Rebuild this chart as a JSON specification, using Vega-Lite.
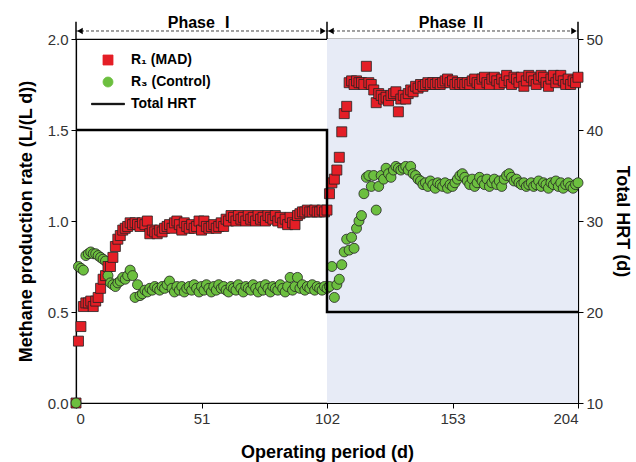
{
"$schema": "https://vega.github.io/schema/vega-lite/v6.json",
"width": 502, "height": 364,
"autosize": {"type": "none"},
"padding": {"left": 76, "top": 39, "right": 58, "bottom": 59},
"background": "white",
"config": {
 "font": "Liberation Sans",
 "view": {"stroke": "black", "strokeWidth": 1.2},
 "axis": {"domainColor": "black", "domainWidth": 1.2, "tickColor": "black", "tickWidth": 1, "tickSize": 5, "labelFontSize": 15, "labelColor": "#333", "titleFontSize": 18, "titleFontWeight": "bold", "titleColor": "black", "grid": false, "labelFont": "Liberation Sans", "titleFont": "Liberation Sans", "zindex": 1},
 "legend": {"orient": "none", "legendX": 25, "legendY": 14, "labelFont": "Liberation Sans, Noto Sans", "labelFontSize": 14, "labelFontWeight": "bold", "labelColor": "black", "symbolSize": 100, "rowPadding": 8, "labelOffset": 16, "symbolStrokeColor": "#222", "symbolStrokeWidth": 0.8, "symbolOpacity": 1}
},
"datasets": {
 "main": [
{"d":0,"r1":0.00,"r3":0.00},{"d":1,"r1":0.34,"r3":0.75},{"d":2,"r1":0.42,"r3":0.74},{"d":3,"r1":0.53,"r3":0.73},{"d":4,"r1":0.55,"r3":0.81},{"d":5,"r1":0.55,"r3":0.82},{"d":6,"r1":0.56,"r3":0.83},{"d":7,"r1":0.53,"r3":0.82},{"d":8,"r1":0.56,"r3":0.82},{"d":9,"r1":0.58,"r3":0.81},
{"d":10,"r1":0.63,"r3":0.80},{"d":11,"r1":0.68,"r3":0.79},{"d":12,"r1":0.70,"r3":0.78},{"d":13,"r1":0.75,"r3":0.70},{"d":14,"r1":0.75,"r3":0.66},{"d":15,"r1":0.80,"r3":0.65},{"d":16,"r1":0.86,"r3":0.64},{"d":17,"r1":0.90,"r3":0.66},{"d":18,"r1":0.92,"r3":0.67},{"d":19,"r1":0.95,"r3":0.69},
{"d":20,"r1":0.96,"r3":0.68},{"d":21,"r1":0.97,"r3":0.70},{"d":22,"r1":0.99,"r3":0.73},{"d":23,"r1":0.98,"r3":0.70},{"d":24,"r1":0.99,"r3":0.58},{"d":25,"r1":0.98,"r3":0.65},{"d":26,"r1":0.97,"r3":0.59},{"d":27,"r1":0.99,"r3":0.60},{"d":28,"r1":0.98,"r3":0.62},{"d":29,"r1":1.00,"r3":0.61},
{"d":30,"r1":0.93,"r3":0.63},{"d":31,"r1":0.95,"r3":0.62},{"d":32,"r1":0.94,"r3":0.64},{"d":33,"r1":0.93,"r3":0.63},{"d":34,"r1":0.95,"r3":0.62},{"d":35,"r1":0.94,"r3":0.64},{"d":36,"r1":0.96,"r3":0.63},{"d":37,"r1":0.97,"r3":0.65},{"d":38,"r1":0.98,"r3":0.67},{"d":39,"r1":0.96,"r3":0.63},
{"d":40,"r1":0.99,"r3":0.61},{"d":41,"r1":1.00,"r3":0.64},{"d":42,"r1":0.98,"r3":0.62},{"d":43,"r1":0.95,"r3":0.64},{"d":44,"r1":0.99,"r3":0.61},{"d":45,"r1":0.97,"r3":0.63},{"d":46,"r1":0.96,"r3":0.64},{"d":47,"r1":0.98,"r3":0.62},{"d":48,"r1":0.96,"r3":0.65},{"d":49,"r1":0.97,"r3":0.63},
{"d":50,"r1":1.00,"r3":0.61},{"d":51,"r1":0.95,"r3":0.64},{"d":52,"r1":1.00,"r3":0.62},{"d":53,"r1":0.97,"r3":0.65},{"d":54,"r1":0.96,"r3":0.63},{"d":55,"r1":0.97,"r3":0.61},{"d":56,"r1":0.98,"r3":0.64},{"d":57,"r1":0.96,"r3":0.62},{"d":58,"r1":0.97,"r3":0.65},{"d":59,"r1":0.99,"r3":0.63},
{"d":60,"r1":0.97,"r3":0.64},{"d":61,"r1":1.01,"r3":0.62},{"d":62,"r1":1.00,"r3":0.61},{"d":63,"r1":1.03,"r3":0.64},{"d":64,"r1":1.02,"r3":0.63},{"d":65,"r1":1.00,"r3":0.62},{"d":66,"r1":1.03,"r3":0.65},{"d":67,"r1":1.01,"r3":0.63},{"d":68,"r1":1.02,"r3":0.61},{"d":69,"r1":1.00,"r3":0.64},
{"d":70,"r1":1.03,"r3":0.63},{"d":71,"r1":1.01,"r3":0.62},{"d":72,"r1":1.02,"r3":0.65},{"d":73,"r1":1.00,"r3":0.63},{"d":74,"r1":1.03,"r3":0.61},{"d":75,"r1":1.01,"r3":0.64},{"d":76,"r1":1.02,"r3":0.62},{"d":77,"r1":1.00,"r3":0.65},{"d":78,"r1":1.03,"r3":0.63},{"d":79,"r1":1.02,"r3":0.61},
{"d":80,"r1":1.01,"r3":0.64},{"d":81,"r1":1.03,"r3":0.63},{"d":82,"r1":1.00,"r3":0.62},{"d":83,"r1":1.02,"r3":0.65},{"d":84,"r1":0.99,"r3":0.63},{"d":85,"r1":1.01,"r3":0.61},{"d":86,"r1":0.98,"r3":0.64},{"d":87,"r1":1.02,"r3":0.69},{"d":88,"r1":0.99,"r3":0.62},{"d":89,"r1":0.98,"r3":0.64},
{"d":90,"r1":1.03,"r3":0.69},{"d":91,"r1":1.04,"r3":0.63},{"d":92,"r1":1.05,"r3":0.65},{"d":93,"r1":1.05,"r3":0.62},{"d":94,"r1":1.06,"r3":0.64},{"d":95,"r1":1.05,"r3":0.63},{"d":96,"r1":1.05,"r3":0.65},{"d":97,"r1":1.06,"r3":0.62},{"d":98,"r1":1.05,"r3":0.64},{"d":99,"r1":1.05,"r3":0.63},
{"d":100,"r1":1.06,"r3":0.62},{"d":101,"r1":1.05,"r3":0.64},{"d":102,"r1":1.06,"r3":0.63},{"d":103,"r1":1.15,"r3":0.64},{"d":104,"r1":1.21,"r3":0.75},{"d":105,"r1":1.23,"r3":0.58},{"d":106,"r1":1.28,"r3":0.65},{"d":107,"r1":1.35,"r3":0.68},{"d":108,"r1":1.49,"r3":0.76},{"d":109,"r1":1.59,"r3":0.83},
{"d":110,"r1":1.63,"r3":0.90},{"d":111,"r1":1.76,"r3":0.84},{"d":112,"r1":1.77,"r3":0.91},{"d":113,"r1":1.75,"r3":0.85},{"d":114,"r1":1.77,"r3":0.96},{"d":115,"r1":1.76,"r3":1.00},{"d":116,"r1":1.76,"r3":1.03},{"d":117,"r1":1.75,"r3":1.15},{"d":118,"r1":1.85,"r3":1.24},{"d":119,"r1":1.76,"r3":1.25},
{"d":120,"r1":1.75,"r3":1.19},{"d":121,"r1":1.72,"r3":1.25},{"d":122,"r1":1.65,"r3":1.06},{"d":123,"r1":1.70,"r3":1.19},{"d":124,"r1":1.69,"r3":1.25},{"d":125,"r1":1.67,"r3":1.23},{"d":126,"r1":1.68,"r3":1.29},{"d":127,"r1":1.66,"r3":1.26},{"d":128,"r1":1.69,"r3":1.24},{"d":129,"r1":1.70,"r3":1.28},
{"d":130,"r1":1.71,"r3":1.30},{"d":131,"r1":1.60,"r3":1.29},{"d":132,"r1":1.67,"r3":1.28},{"d":133,"r1":1.69,"r3":1.29},{"d":134,"r1":1.67,"r3":1.30},{"d":135,"r1":1.70,"r3":1.28},{"d":136,"r1":1.72,"r3":1.30},{"d":137,"r1":1.71,"r3":1.26},{"d":138,"r1":1.74,"r3":1.25},{"d":139,"r1":1.73,"r3":1.23},
{"d":140,"r1":1.75,"r3":1.22},{"d":141,"r1":1.74,"r3":1.20},{"d":142,"r1":1.75,"r3":1.21},{"d":143,"r1":1.76,"r3":1.19},{"d":144,"r1":1.75,"r3":1.22},{"d":145,"r1":1.76,"r3":1.20},{"d":146,"r1":1.75,"r3":1.18},{"d":147,"r1":1.76,"r3":1.21},{"d":148,"r1":1.75,"r3":1.20},{"d":149,"r1":1.76,"r3":1.19},
{"d":150,"r1":1.77,"r3":1.21},{"d":151,"r1":1.78,"r3":1.18},{"d":152,"r1":1.76,"r3":1.20},{"d":153,"r1":1.77,"r3":1.19},{"d":154,"r1":1.75,"r3":1.21},{"d":155,"r1":1.76,"r3":1.23},{"d":156,"r1":1.75,"r3":1.25},{"d":157,"r1":1.76,"r3":1.26},{"d":158,"r1":1.75,"r3":1.24},{"d":159,"r1":1.76,"r3":1.22},
{"d":160,"r1":1.75,"r3":1.20},{"d":161,"r1":1.77,"r3":1.23},{"d":162,"r1":1.78,"r3":1.19},{"d":163,"r1":1.76,"r3":1.21},{"d":164,"r1":1.75,"r3":1.24},{"d":165,"r1":1.78,"r3":1.22},{"d":166,"r1":1.79,"r3":1.20},{"d":167,"r1":1.76,"r3":1.23},{"d":168,"r1":1.75,"r3":1.19},{"d":169,"r1":1.78,"r3":1.21},
{"d":170,"r1":1.79,"r3":1.23},{"d":171,"r1":1.77,"r3":1.20},{"d":172,"r1":1.75,"r3":1.22},{"d":173,"r1":1.78,"r3":1.19},{"d":174,"r1":1.76,"r3":1.23},{"d":175,"r1":1.80,"r3":1.25},{"d":176,"r1":1.77,"r3":1.26},{"d":177,"r1":1.75,"r3":1.24},{"d":178,"r1":1.79,"r3":1.22},{"d":179,"r1":1.78,"r3":1.23},
{"d":180,"r1":1.76,"r3":1.21},{"d":181,"r1":1.79,"r3":1.20},{"d":182,"r1":1.74,"r3":1.21},{"d":183,"r1":1.77,"r3":1.19},{"d":184,"r1":1.80,"r3":1.20},{"d":185,"r1":1.79,"r3":1.21},{"d":186,"r1":1.77,"r3":1.19},{"d":187,"r1":1.75,"r3":1.20},{"d":188,"r1":1.78,"r3":1.22},{"d":189,"r1":1.80,"r3":1.19},
{"d":190,"r1":1.79,"r3":1.21},{"d":191,"r1":1.76,"r3":1.20},{"d":192,"r1":1.74,"r3":1.18},{"d":193,"r1":1.78,"r3":1.21},{"d":194,"r1":1.80,"r3":1.20},{"d":195,"r1":1.76,"r3":1.22},{"d":196,"r1":1.78,"r3":1.19},{"d":197,"r1":1.80,"r3":1.21},{"d":198,"r1":1.77,"r3":1.18},{"d":199,"r1":1.75,"r3":1.20},
{"d":200,"r1":1.78,"r3":1.21},{"d":201,"r1":1.75,"r3":1.19},{"d":202,"r1":1.77,"r3":1.18},{"d":203,"r1":1.76,"r3":1.20},{"d":204,"r1":1.79,"r3":1.21}
 ],
 "hrt": [{"i":0,"d":0,"h":40,"key":"hrt"},{"i":1,"d":102,"h":40,"key":"hrt"},{"i":2,"d":102,"h":20,"key":"hrt"},{"i":3,"d":204,"h":20,"key":"hrt"}],
 "phase": [{"d0":0,"d1":102,"mid":51,"label":"Phase Ⅰ"},{"d0":102,"d1":204,"mid":153,"label":"Phase Ⅱ"}],
 "ticks": [{"d":0},{"d":102},{"d":204}]
},
"layer": [
 {"layer": [
  {"data": {"name": "phase"}, "transform": [{"filter": "datum.d0 == 102"}],
   "mark": {"type": "rect", "color": "#e7ebf6"},
   "encoding": {"x": {"field": "d0", "type": "quantitative", "scale": {"domain": [0, 204], "nice": false}}, "x2": {"field": "d1"}}},
  {"data": {"name": "phase"},
   "mark": {"type": "rule", "color": "#444", "strokeWidth": 1, "strokeDash": [3, 2]},
   "encoding": {"x": {"field": "d0", "type": "quantitative"}, "x2": {"field": "d1"}, "y": {"datum": 2.044, "type": "quantitative", "scale": {"domain": [0, 2]}}}},
  {"data": {"name": "phase"},
   "mark": {"type": "point", "shape": "triangle-left", "filled": true, "color": "black", "size": 40, "opacity": 1, "xOffset": 4},
   "encoding": {"x": {"field": "d0", "type": "quantitative"}, "y": {"datum": 2.044, "type": "quantitative", "scale": {"domain": [0, 2]}}}},
  {"data": {"name": "phase"},
   "mark": {"type": "point", "shape": "triangle-right", "filled": true, "color": "black", "size": 40, "opacity": 1, "xOffset": -4},
   "encoding": {"x": {"field": "d1", "type": "quantitative"}, "y": {"datum": 2.044, "type": "quantitative", "scale": {"domain": [0, 2]}}}},
  {"data": {"name": "ticks"},
   "mark": {"type": "rule", "color": "black", "strokeWidth": 1.5},
   "encoding": {"x": {"field": "d", "type": "quantitative"}, "y": {"datum": 2.0, "type": "quantitative", "scale": {"domain": [0, 2]}}, "y2": {"datum": 2.095}}},
  {"data": {"name": "phase"},
   "mark": {"type": "text", "fontSize": 16, "fontWeight": "bold", "font": "Liberation Sans, Noto Sans CJK KR", "baseline": "alphabetic", "color": "black"},
   "encoding": {"x": {"field": "mid", "type": "quantitative"}, "y": {"datum": 2.062, "type": "quantitative", "scale": {"domain": [0, 2]}}, "text": {"field": "label"}}},
  {"data": {"name": "main"},
   "transform": [{"fold": ["r1", "r3"], "as": ["key", "v"]}],
   "mark": {"type": "point", "filled": true, "size": 100, "opacity": 1, "stroke": "#222", "strokeWidth": 0.8},
   "encoding": {
    "x": {"field": "d", "type": "quantitative", "scale": {"domain": [0, 204], "nice": false},
          "axis": {"values": [0, 51, 102, 153, 204], "title": "Operating period (d)", "labelPadding": 3, "titlePadding": 17}},
    "y": {"field": "v", "type": "quantitative", "scale": {"domain": [0, 2], "nice": false},
          "axis": {"values": [0, 0.5, 1, 1.5, 2], "format": ".1f", "title": "Methane production rate (L/(L d))", "titlePadding": 12, "labelPadding": 3}},
    "color": {"field": "key", "type": "nominal", "scale": {"domain": ["r1", "r3", "hrt"], "range": ["#e41e26", "#6cbf3f", "#000000"]},
              "legend": {"title": null, "labelExpr": "datum.value == 'r1' ? 'R₁ (MAD)' : datum.value == 'r3' ? 'R₃ (Control)' : 'Total HRT'"}},
    "shape": {"field": "key", "type": "nominal", "scale": {"domain": ["r1", "r3", "hrt"], "range": ["square", "circle", "M-3.3,-0.14H3.3V0.14H-3.3Z"]},
              "legend": {"title": null, "labelExpr": "datum.value == 'r1' ? 'R₁ (MAD)' : datum.value == 'r3' ? 'R₃ (Control)' : 'Total HRT'"}}
   }}
 ]},
 {"data": {"name": "hrt"},
  "mark": {"type": "line", "strokeWidth": 2.5, "interpolate": "linear", "strokeCap": "butt"},
  "encoding": {
   "x": {"field": "d", "type": "quantitative"},
   "y": {"field": "h", "type": "quantitative", "scale": {"domain": [10, 50], "nice": false},
         "axis": {"orient": "right", "values": [10, 20, 30, 40, 50], "title": "Total HRT (d)", "titlePadding": 10, "labelPadding": 3}},
   "color": {"field": "key", "type": "nominal", "legend": null},
   "order": {"field": "i", "type": "quantitative"}
  }}
],
"resolve": {"scale": {"y": "independent"}}
}
